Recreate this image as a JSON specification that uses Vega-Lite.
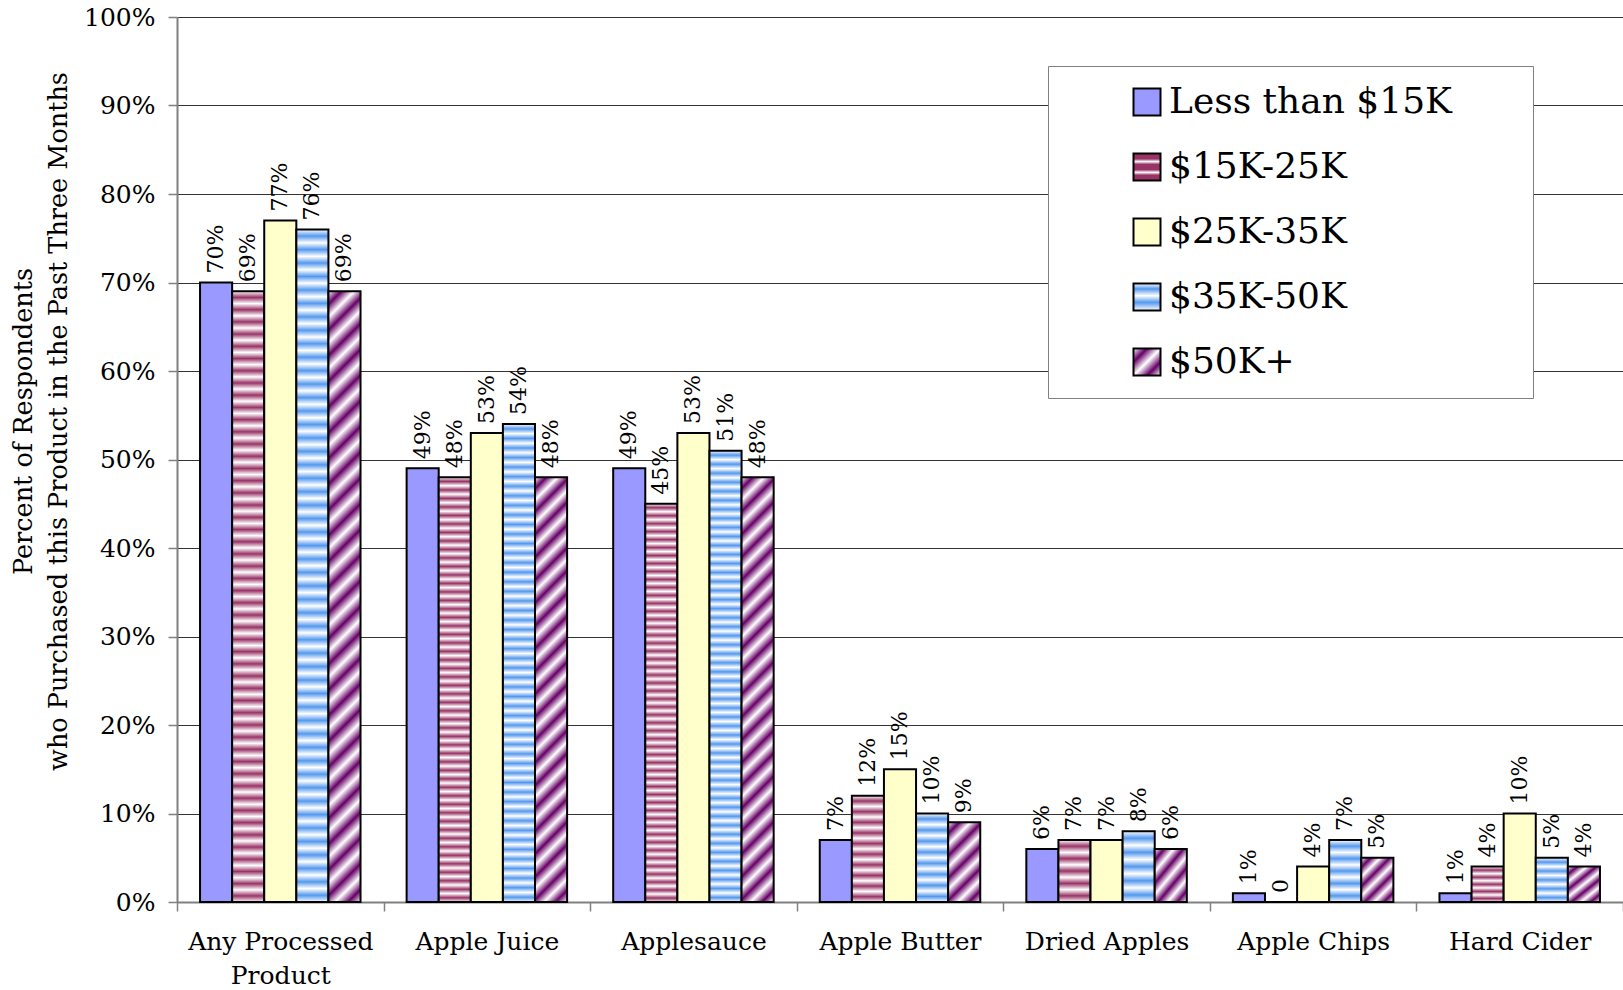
{
  "$schema": "https://vega.github.io/schema/vega-lite/v6.json",
  "width": 1446,
  "height": 885,
  "autosize": "none",
  "padding": {"left": 177, "top": 17, "right": 0, "bottom": 88},
  "background": "white",
  "config": {"font": "DejaVu Serif", "view": {"stroke": null}},
  "data": {"values": [
    {"product": "Any Processed Product", "income": "Less than $15K", "value": 0.70},
    {"product": "Any Processed Product", "income": "$15K-25K", "value": 0.69},
    {"product": "Any Processed Product", "income": "$25K-35K", "value": 0.77},
    {"product": "Any Processed Product", "income": "$35K-50K", "value": 0.76},
    {"product": "Any Processed Product", "income": "$50K+", "value": 0.69},
    {"product": "Apple Juice", "income": "Less than $15K", "value": 0.49},
    {"product": "Apple Juice", "income": "$15K-25K", "value": 0.48},
    {"product": "Apple Juice", "income": "$25K-35K", "value": 0.53},
    {"product": "Apple Juice", "income": "$35K-50K", "value": 0.54},
    {"product": "Apple Juice", "income": "$50K+", "value": 0.48},
    {"product": "Applesauce", "income": "Less than $15K", "value": 0.49},
    {"product": "Applesauce", "income": "$15K-25K", "value": 0.45},
    {"product": "Applesauce", "income": "$25K-35K", "value": 0.53},
    {"product": "Applesauce", "income": "$35K-50K", "value": 0.51},
    {"product": "Applesauce", "income": "$50K+", "value": 0.48},
    {"product": "Apple Butter", "income": "Less than $15K", "value": 0.07},
    {"product": "Apple Butter", "income": "$15K-25K", "value": 0.12},
    {"product": "Apple Butter", "income": "$25K-35K", "value": 0.15},
    {"product": "Apple Butter", "income": "$35K-50K", "value": 0.10},
    {"product": "Apple Butter", "income": "$50K+", "value": 0.09},
    {"product": "Dried Apples", "income": "Less than $15K", "value": 0.06},
    {"product": "Dried Apples", "income": "$15K-25K", "value": 0.07},
    {"product": "Dried Apples", "income": "$25K-35K", "value": 0.07},
    {"product": "Dried Apples", "income": "$35K-50K", "value": 0.08},
    {"product": "Dried Apples", "income": "$50K+", "value": 0.06},
    {"product": "Apple Chips", "income": "Less than $15K", "value": 0.01},
    {"product": "Apple Chips", "income": "$15K-25K", "value": 0},
    {"product": "Apple Chips", "income": "$25K-35K", "value": 0.04},
    {"product": "Apple Chips", "income": "$35K-50K", "value": 0.07},
    {"product": "Apple Chips", "income": "$50K+", "value": 0.05},
    {"product": "Hard Cider", "income": "Less than $15K", "value": 0.01},
    {"product": "Hard Cider", "income": "$15K-25K", "value": 0.04},
    {"product": "Hard Cider", "income": "$25K-35K", "value": 0.10},
    {"product": "Hard Cider", "income": "$35K-50K", "value": 0.05},
    {"product": "Hard Cider", "income": "$50K+", "value": 0.04}
  ]},
  "encoding": {
    "x": {
      "field": "product", "type": "nominal",
      "sort": ["Any Processed Product", "Apple Juice", "Applesauce", "Apple Butter", "Dried Apples", "Apple Chips", "Hard Cider"],
      "scale": {"paddingInner": 0, "paddingOuter": 0},
      "axis": {
        "title": null, "labelAngle": 0, "tickBand": "extent", "tickSize": 9, "tickWidth": 1.5,
        "tickColor": "#808080", "domainColor": "#808080", "domainWidth": 2,
        "labelFontSize": 25, "labelColor": "black", "labelPadding": 18, "labelLineHeight": 34, "labelLimit": 400,
        "labelExpr": "datum.label === 'Any Processed Product' ? ['Any Processed', 'Product'] : datum.label"
      }
    },
    "xOffset": {
      "field": "income", "type": "nominal",
      "sort": ["Less than $15K", "$15K-25K", "$25K-35K", "$35K-50K", "$50K+"],
      "scale": {"paddingInner": 0, "paddingOuter": 0.718}
    },
    "y": {
      "field": "value", "type": "quantitative",
      "scale": {"domain": [0, 1], "nice": false},
      "axis": {
        "values": [0, 0.1, 0.2, 0.3, 0.4, 0.5, 0.6, 0.7, 0.8, 0.9, 1],
        "format": ".0%", "grid": true, "gridColor": "#333", "gridWidth": 1,
        "domainColor": "#808080", "domainWidth": 2, "tickColor": "#808080", "tickSize": 9, "tickWidth": 1.5,
        "labelFontSize": 25, "labelColor": "black", "labelPadding": 13,
        "title": ["Percent of Respondents", "who Purchased this Product in the Past Three Months"],
        "titleFontSize": 25.5, "titleFontWeight": "normal", "titleColor": "black",
        "titleAngle": -90, "titleX": -154, "titleY": 404, "titleAlign": "center", "titleBaseline": "middle", "titleLineHeight": 35
      }
    }
  },
  "layer": [
    {
      "mark": {"type": "bar", "stroke": "black", "strokeWidth": 2},
      "encoding": {
        "fill": {
          "field": "income", "type": "nominal",
          "sort": ["Less than $15K", "$15K-25K", "$25K-35K", "$35K-50K", "$50K+"],
          "scale": {"domain": ["Less than $15K", "$15K-25K", "$25K-35K", "$35K-50K", "$50K+"], "range": [
            "#9999ff",
            {"expr": "{gradient: 'linear', x1: 0, y1: 0, x2: 0, y2: 1, stops: [{offset: 0, color: '#936'}, {offset: 0.2, color: '#936'}, {offset: 0.3, color: '#fff'}, {offset: 0.4, color: '#936'}, {offset: 0.6, color: '#936'}, {offset: 0.7, color: '#fff'}, {offset: 0.8, color: '#936'}, {offset: 1, color: '#936'}]}"},
            "#ffffcc",
            {"expr": "{gradient: 'linear', x1: 0, y1: 0, x2: 0, y2: 1, stops: [{offset: 0, color: '#fff'}, {offset: 0.2, color: '#59e'}, {offset: 0.45, color: '#fff'}, {offset: 0.7, color: '#59e'}, {offset: 1, color: '#fff'}]}"},
            {"expr": "{gradient: 'linear', x1: 0, y1: 0, x2: 1, y2: 1, stops: [{offset: 0, color: '#fff'}, {offset: 0.25, color: '#606'}, {offset: 0.5, color: '#fff'}, {offset: 0.75, color: '#606'}, {offset: 1, color: '#fff'}]}"}
          ]},
          "legend": {
            "orient": "none", "legendX": 871, "legendY": 49, "padding": 18,
            "title": " ", "titleOrient": "right", "titleFontSize": 36, "titlePadding": 63,
            "symbolType": "square", "symbolSize": 729, "symbolStrokeColor": "black", "symbolStrokeWidth": 2,
            "labelFontSize": 36, "labelFont": "DejaVu Serif", "labelColor": "black", "labelOffset": 4, "labelLimit": 500,
            "symbolOffset": 63, "rowPadding": 29, "strokeColor": "#808080", "fillColor": "white"
          },
          "condition": [
            {"test": "datum.income === '$15K-25K' && datum.value >= 0.4", "value": {"gradient": "linear", "x1": 0, "y1": 0, "x2": 0, "y2": 1, "stops": [
              {"offset":0,"color":"#fff"},{"offset":0.01,"color":"#936"},{"offset":0.02,"color":"#fff"},{"offset":0.03,"color":"#936"},{"offset":0.04,"color":"#fff"},{"offset":0.05,"color":"#936"},{"offset":0.06,"color":"#fff"},{"offset":0.07,"color":"#936"},{"offset":0.08,"color":"#fff"},{"offset":0.09,"color":"#936"},
              {"offset":0.1,"color":"#fff"},{"offset":0.11,"color":"#936"},{"offset":0.12,"color":"#fff"},{"offset":0.13,"color":"#936"},{"offset":0.14,"color":"#fff"},{"offset":0.15,"color":"#936"},{"offset":0.16,"color":"#fff"},{"offset":0.17,"color":"#936"},{"offset":0.18,"color":"#fff"},{"offset":0.19,"color":"#936"},
              {"offset":0.2,"color":"#fff"},{"offset":0.21,"color":"#936"},{"offset":0.22,"color":"#fff"},{"offset":0.23,"color":"#936"},{"offset":0.24,"color":"#fff"},{"offset":0.25,"color":"#936"},{"offset":0.26,"color":"#fff"},{"offset":0.27,"color":"#936"},{"offset":0.28,"color":"#fff"},{"offset":0.29,"color":"#936"},
              {"offset":0.3,"color":"#fff"},{"offset":0.31,"color":"#936"},{"offset":0.32,"color":"#fff"},{"offset":0.33,"color":"#936"},{"offset":0.34,"color":"#fff"},{"offset":0.35,"color":"#936"},{"offset":0.36,"color":"#fff"},{"offset":0.37,"color":"#936"},{"offset":0.38,"color":"#fff"},{"offset":0.39,"color":"#936"},
              {"offset":0.4,"color":"#fff"},{"offset":0.41,"color":"#936"},{"offset":0.42,"color":"#fff"},{"offset":0.43,"color":"#936"},{"offset":0.44,"color":"#fff"},{"offset":0.45,"color":"#936"},{"offset":0.46,"color":"#fff"},{"offset":0.47,"color":"#936"},{"offset":0.48,"color":"#fff"},{"offset":0.49,"color":"#936"},
              {"offset":0.5,"color":"#fff"},{"offset":0.51,"color":"#936"},{"offset":0.52,"color":"#fff"},{"offset":0.53,"color":"#936"},{"offset":0.54,"color":"#fff"},{"offset":0.55,"color":"#936"},{"offset":0.56,"color":"#fff"},{"offset":0.57,"color":"#936"},{"offset":0.58,"color":"#fff"},{"offset":0.59,"color":"#936"},
              {"offset":0.6,"color":"#fff"},{"offset":0.61,"color":"#936"},{"offset":0.62,"color":"#fff"},{"offset":0.63,"color":"#936"},{"offset":0.64,"color":"#fff"},{"offset":0.65,"color":"#936"},{"offset":0.66,"color":"#fff"},{"offset":0.67,"color":"#936"},{"offset":0.68,"color":"#fff"},{"offset":0.69,"color":"#936"},
              {"offset":0.7,"color":"#fff"},{"offset":0.71,"color":"#936"},{"offset":0.72,"color":"#fff"},{"offset":0.73,"color":"#936"},{"offset":0.74,"color":"#fff"},{"offset":0.75,"color":"#936"},{"offset":0.76,"color":"#fff"},{"offset":0.77,"color":"#936"},{"offset":0.78,"color":"#fff"},{"offset":0.79,"color":"#936"},
              {"offset":0.8,"color":"#fff"},{"offset":0.81,"color":"#936"},{"offset":0.82,"color":"#fff"},{"offset":0.83,"color":"#936"},{"offset":0.84,"color":"#fff"},{"offset":0.85,"color":"#936"},{"offset":0.86,"color":"#fff"},{"offset":0.87,"color":"#936"},{"offset":0.88,"color":"#fff"},{"offset":0.89,"color":"#936"},
              {"offset":0.9,"color":"#fff"},{"offset":0.91,"color":"#936"},{"offset":0.92,"color":"#fff"},{"offset":0.93,"color":"#936"},{"offset":0.94,"color":"#fff"},{"offset":0.95,"color":"#936"},{"offset":0.96,"color":"#fff"},{"offset":0.97,"color":"#936"},{"offset":0.98,"color":"#fff"},{"offset":0.99,"color":"#936"},
              {"offset":1,"color":"#fff"}]}},
            {"test": "datum.income === '$15K-25K' && datum.value >= 0.1", "value": {"gradient": "linear", "x1": 0, "y1": 0, "x2": 0, "y2": 1, "stops": [
              {"offset":0,"color":"#fff"},{"offset":0.05,"color":"#936"},{"offset":0.1,"color":"#fff"},{"offset":0.15,"color":"#936"},{"offset":0.2,"color":"#fff"},{"offset":0.25,"color":"#936"},{"offset":0.3,"color":"#fff"},{"offset":0.35,"color":"#936"},{"offset":0.4,"color":"#fff"},{"offset":0.45,"color":"#936"},
              {"offset":0.5,"color":"#fff"},{"offset":0.55,"color":"#936"},{"offset":0.6,"color":"#fff"},{"offset":0.65,"color":"#936"},{"offset":0.7,"color":"#fff"},{"offset":0.75,"color":"#936"},{"offset":0.8,"color":"#fff"},{"offset":0.85,"color":"#936"},{"offset":0.9,"color":"#fff"},{"offset":0.95,"color":"#936"},
              {"offset":1,"color":"#fff"}]}},
            {"test": "datum.income === '$15K-25K'", "value": {"gradient": "linear", "x1": 0, "y1": 0, "x2": 0, "y2": 1, "stops": [
              {"offset":0,"color":"#fff"},{"offset":0.1,"color":"#936"},{"offset":0.2,"color":"#fff"},{"offset":0.3,"color":"#936"},{"offset":0.4,"color":"#fff"},{"offset":0.5,"color":"#936"},{"offset":0.6,"color":"#fff"},{"offset":0.7,"color":"#936"},{"offset":0.8,"color":"#fff"},{"offset":0.9,"color":"#936"},{"offset":1,"color":"#fff"}]}},
            {"test": "datum.income === '$35K-50K' && datum.value >= 0.5", "value": {"gradient": "linear", "x1": 0, "y1": 0, "x2": 0, "y2": 1, "stops": [
              {"offset":0,"color":"#fff"},{"offset":0.01,"color":"#59e"},{"offset":0.02,"color":"#fff"},{"offset":0.03,"color":"#59e"},{"offset":0.04,"color":"#fff"},{"offset":0.05,"color":"#59e"},{"offset":0.06,"color":"#fff"},{"offset":0.07,"color":"#59e"},{"offset":0.08,"color":"#fff"},{"offset":0.09,"color":"#59e"},
              {"offset":0.1,"color":"#fff"},{"offset":0.11,"color":"#59e"},{"offset":0.12,"color":"#fff"},{"offset":0.13,"color":"#59e"},{"offset":0.14,"color":"#fff"},{"offset":0.15,"color":"#59e"},{"offset":0.16,"color":"#fff"},{"offset":0.17,"color":"#59e"},{"offset":0.18,"color":"#fff"},{"offset":0.19,"color":"#59e"},
              {"offset":0.2,"color":"#fff"},{"offset":0.21,"color":"#59e"},{"offset":0.22,"color":"#fff"},{"offset":0.23,"color":"#59e"},{"offset":0.24,"color":"#fff"},{"offset":0.25,"color":"#59e"},{"offset":0.26,"color":"#fff"},{"offset":0.27,"color":"#59e"},{"offset":0.28,"color":"#fff"},{"offset":0.29,"color":"#59e"},
              {"offset":0.3,"color":"#fff"},{"offset":0.31,"color":"#59e"},{"offset":0.32,"color":"#fff"},{"offset":0.33,"color":"#59e"},{"offset":0.34,"color":"#fff"},{"offset":0.35,"color":"#59e"},{"offset":0.36,"color":"#fff"},{"offset":0.37,"color":"#59e"},{"offset":0.38,"color":"#fff"},{"offset":0.39,"color":"#59e"},
              {"offset":0.4,"color":"#fff"},{"offset":0.41,"color":"#59e"},{"offset":0.42,"color":"#fff"},{"offset":0.43,"color":"#59e"},{"offset":0.44,"color":"#fff"},{"offset":0.45,"color":"#59e"},{"offset":0.46,"color":"#fff"},{"offset":0.47,"color":"#59e"},{"offset":0.48,"color":"#fff"},{"offset":0.49,"color":"#59e"},
              {"offset":0.5,"color":"#fff"},{"offset":0.51,"color":"#59e"},{"offset":0.52,"color":"#fff"},{"offset":0.53,"color":"#59e"},{"offset":0.54,"color":"#fff"},{"offset":0.55,"color":"#59e"},{"offset":0.56,"color":"#fff"},{"offset":0.57,"color":"#59e"},{"offset":0.58,"color":"#fff"},{"offset":0.59,"color":"#59e"},
              {"offset":0.6,"color":"#fff"},{"offset":0.61,"color":"#59e"},{"offset":0.62,"color":"#fff"},{"offset":0.63,"color":"#59e"},{"offset":0.64,"color":"#fff"},{"offset":0.65,"color":"#59e"},{"offset":0.66,"color":"#fff"},{"offset":0.67,"color":"#59e"},{"offset":0.68,"color":"#fff"},{"offset":0.69,"color":"#59e"},
              {"offset":0.7,"color":"#fff"},{"offset":0.71,"color":"#59e"},{"offset":0.72,"color":"#fff"},{"offset":0.73,"color":"#59e"},{"offset":0.74,"color":"#fff"},{"offset":0.75,"color":"#59e"},{"offset":0.76,"color":"#fff"},{"offset":0.77,"color":"#59e"},{"offset":0.78,"color":"#fff"},{"offset":0.79,"color":"#59e"},
              {"offset":0.8,"color":"#fff"},{"offset":0.81,"color":"#59e"},{"offset":0.82,"color":"#fff"},{"offset":0.83,"color":"#59e"},{"offset":0.84,"color":"#fff"},{"offset":0.85,"color":"#59e"},{"offset":0.86,"color":"#fff"},{"offset":0.87,"color":"#59e"},{"offset":0.88,"color":"#fff"},{"offset":0.89,"color":"#59e"},
              {"offset":0.9,"color":"#fff"},{"offset":0.91,"color":"#59e"},{"offset":0.92,"color":"#fff"},{"offset":0.93,"color":"#59e"},{"offset":0.94,"color":"#fff"},{"offset":0.95,"color":"#59e"},{"offset":0.96,"color":"#fff"},{"offset":0.97,"color":"#59e"},{"offset":0.98,"color":"#fff"},{"offset":0.99,"color":"#59e"},
              {"offset":1,"color":"#fff"}]}},
            {"test": "datum.income === '$35K-50K' && datum.value >= 0.1", "value": {"gradient": "linear", "x1": 0, "y1": 0, "x2": 0, "y2": 1, "stops": [
              {"offset":0,"color":"#fff"},{"offset":0.0625,"color":"#59e"},{"offset":0.125,"color":"#fff"},{"offset":0.1875,"color":"#59e"},{"offset":0.25,"color":"#fff"},{"offset":0.3125,"color":"#59e"},{"offset":0.375,"color":"#fff"},{"offset":0.4375,"color":"#59e"},{"offset":0.5,"color":"#fff"},
              {"offset":0.5625,"color":"#59e"},{"offset":0.625,"color":"#fff"},{"offset":0.6875,"color":"#59e"},{"offset":0.75,"color":"#fff"},{"offset":0.8125,"color":"#59e"},{"offset":0.875,"color":"#fff"},{"offset":0.9375,"color":"#59e"},{"offset":1,"color":"#fff"}]}},
            {"test": "datum.income === '$35K-50K'", "value": {"gradient": "linear", "x1": 0, "y1": 0, "x2": 0, "y2": 1, "stops": [
              {"offset":0,"color":"#fff"},{"offset":0.1,"color":"#59e"},{"offset":0.2,"color":"#fff"},{"offset":0.3,"color":"#59e"},{"offset":0.4,"color":"#fff"},{"offset":0.5,"color":"#59e"},{"offset":0.6,"color":"#fff"},{"offset":0.7,"color":"#59e"},{"offset":0.8,"color":"#fff"},{"offset":0.9,"color":"#59e"},{"offset":1,"color":"#fff"}]}},
            {"test": "datum.income === '$50K+' && datum.value >= 0.6", "value": {"gradient": "linear", "x1": 0, "y1": 0, "x2": 0.055, "y2": 1.05, "stops": [
              {"offset":0,"color":"#fff"},{"offset":0.02,"color":"#606"},{"offset":0.04,"color":"#fff"},{"offset":0.06,"color":"#606"},{"offset":0.08,"color":"#fff"},{"offset":0.1,"color":"#606"},{"offset":0.12,"color":"#fff"},{"offset":0.14,"color":"#606"},{"offset":0.16,"color":"#fff"},{"offset":0.18,"color":"#606"},
              {"offset":0.2,"color":"#fff"},{"offset":0.22,"color":"#606"},{"offset":0.24,"color":"#fff"},{"offset":0.26,"color":"#606"},{"offset":0.28,"color":"#fff"},{"offset":0.3,"color":"#606"},{"offset":0.32,"color":"#fff"},{"offset":0.34,"color":"#606"},{"offset":0.36,"color":"#fff"},{"offset":0.38,"color":"#606"},
              {"offset":0.4,"color":"#fff"},{"offset":0.42,"color":"#606"},{"offset":0.44,"color":"#fff"},{"offset":0.46,"color":"#606"},{"offset":0.48,"color":"#fff"},{"offset":0.5,"color":"#606"},{"offset":0.52,"color":"#fff"},{"offset":0.54,"color":"#606"},{"offset":0.56,"color":"#fff"},{"offset":0.58,"color":"#606"},
              {"offset":0.6,"color":"#fff"},{"offset":0.62,"color":"#606"},{"offset":0.64,"color":"#fff"},{"offset":0.66,"color":"#606"},{"offset":0.68,"color":"#fff"},{"offset":0.7,"color":"#606"},{"offset":0.72,"color":"#fff"},{"offset":0.74,"color":"#606"},{"offset":0.76,"color":"#fff"},{"offset":0.78,"color":"#606"},
              {"offset":0.8,"color":"#fff"},{"offset":0.82,"color":"#606"},{"offset":0.84,"color":"#fff"},{"offset":0.86,"color":"#606"},{"offset":0.88,"color":"#fff"},{"offset":0.9,"color":"#606"},{"offset":0.92,"color":"#fff"},{"offset":0.94,"color":"#606"},{"offset":0.96,"color":"#fff"},{"offset":0.98,"color":"#606"},
              {"offset":1,"color":"#fff"}]}},
            {"test": "datum.income === '$50K+' && datum.value >= 0.4", "value": {"gradient": "linear", "x1": 0, "y1": 0, "x2": 0.081, "y2": 1.069, "stops": [
              {"offset":0,"color":"#fff"},{"offset":0.025,"color":"#606"},{"offset":0.05,"color":"#fff"},{"offset":0.075,"color":"#606"},{"offset":0.1,"color":"#fff"},{"offset":0.125,"color":"#606"},{"offset":0.15,"color":"#fff"},{"offset":0.175,"color":"#606"},{"offset":0.2,"color":"#fff"},{"offset":0.225,"color":"#606"},
              {"offset":0.25,"color":"#fff"},{"offset":0.275,"color":"#606"},{"offset":0.3,"color":"#fff"},{"offset":0.325,"color":"#606"},{"offset":0.35,"color":"#fff"},{"offset":0.375,"color":"#606"},{"offset":0.4,"color":"#fff"},{"offset":0.425,"color":"#606"},{"offset":0.45,"color":"#fff"},{"offset":0.475,"color":"#606"},
              {"offset":0.5,"color":"#fff"},{"offset":0.525,"color":"#606"},{"offset":0.55,"color":"#fff"},{"offset":0.575,"color":"#606"},{"offset":0.6,"color":"#fff"},{"offset":0.625,"color":"#606"},{"offset":0.65,"color":"#fff"},{"offset":0.675,"color":"#606"},{"offset":0.7,"color":"#fff"},{"offset":0.725,"color":"#606"},
              {"offset":0.75,"color":"#fff"},{"offset":0.775,"color":"#606"},{"offset":0.8,"color":"#fff"},{"offset":0.825,"color":"#606"},{"offset":0.85,"color":"#fff"},{"offset":0.875,"color":"#606"},{"offset":0.9,"color":"#fff"},{"offset":0.925,"color":"#606"},{"offset":0.95,"color":"#fff"},{"offset":0.975,"color":"#606"},
              {"offset":1,"color":"#fff"}]}},
            {"test": "datum.income === '$50K+' && datum.value >= 0.08", "value": {"gradient": "linear", "x1": 0, "y1": 0, "x2": 0.483, "y2": 1.207, "stops": [
              {"offset":0,"color":"#fff"},{"offset":0.1,"color":"#606"},{"offset":0.2,"color":"#fff"},{"offset":0.3,"color":"#606"},{"offset":0.4,"color":"#fff"},{"offset":0.5,"color":"#606"},{"offset":0.6,"color":"#fff"},{"offset":0.7,"color":"#606"},{"offset":0.8,"color":"#fff"},{"offset":0.9,"color":"#606"},{"offset":1,"color":"#fff"}]}},
            {"test": "datum.income === '$50K+'", "value": {"gradient": "linear", "x1": 0, "y1": 0, "x2": 0.82, "y2": 1.13, "stops": [
              {"offset":0,"color":"#fff"},{"offset":0.125,"color":"#606"},{"offset":0.25,"color":"#fff"},{"offset":0.375,"color":"#606"},{"offset":0.5,"color":"#fff"},{"offset":0.625,"color":"#606"},{"offset":0.75,"color":"#fff"},{"offset":0.875,"color":"#606"},{"offset":1,"color":"#fff"}]}}
          ]
        }
      }
    },
    {
      "mark": {"type": "text", "angle": -90, "align": "left", "baseline": "middle", "dx": 9, "fontSize": 22, "font": "DejaVu Serif", "color": "black"},
      "encoding": {
        "text": {"condition": {"test": "datum.value === 0", "value": "0"}, "field": "value", "type": "quantitative", "format": ".0%"}
      }
    }
  ]
}
